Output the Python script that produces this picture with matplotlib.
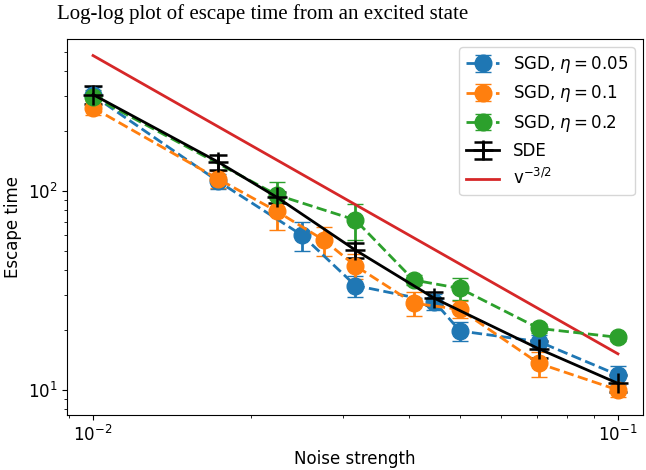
import matplotlib.pyplot as plt

plt.rcParams['font.size'] = 12

# SGD runs, one list per learning rate
x_005 = [0.01, 0.0173, 0.025, 0.0316, 0.0447, 0.05, 0.0707, 0.1]
y_005 = [302, 112, 60, 33.5, 27.8, 19.8, 17.5, 11.9]
e_005 = [30, 10, 10, 4, 2.5, 2.1, 1.5, 1.3]

x_01 = [0.01, 0.0173, 0.0224, 0.0275, 0.0316, 0.0408, 0.05, 0.0707, 0.1]
y_01 = [262, 115, 79, 56.7, 42.1, 27.3, 25.4, 13.6, 10.0]
e_01 = [22, 11, 15, 9.3, 6, 3.8, 2.5, 2, 0.8]

x_02 = [0.01, 0.0224, 0.0316, 0.0408, 0.05, 0.0707, 0.1]
y_02 = [298, 95.5, 71.5, 35.7, 32.4, 20.4, 18.4]
e_02 = [25, 15, 15, 2, 4, 1, 0.8]

# SDE simulation
x_sde = [0.01, 0.0173, 0.0224, 0.0316, 0.0447, 0.0707, 0.1]
y_sde = [305, 140, 93, 50.5, 28.9, 16.1, 10.8]
e_sde = [32, 12, 6, 4.5, 2.3, 1.6, 1.05]

# reference slope v^{-3/2}
x_ref = [0.01, 0.1]
y_ref = [479, 15.2]

fig = plt.figure(figsize=(6.46, 4.70), dpi=100)
ax = fig.add_axes([0.1037, 0.117, 0.8916, 0.800])

kw = dict(fmt='o--', markersize=12, capsize=6, linewidth=2)
h1 = ax.errorbar(x_005, y_005, yerr=e_005, color='tab:blue', label=r'SGD, $\eta = 0.05$', **kw)
h2 = ax.errorbar(x_01, y_01, yerr=e_01, color='tab:orange', label=r'SGD, $\eta = 0.1$', **kw)
h3 = ax.errorbar(x_02, y_02, yerr=e_02, color='tab:green', label=r'SGD, $\eta = 0.2$', **kw)
h4 = ax.errorbar(x_sde, y_sde, yerr=e_sde, fmt='+-', color='black', markersize=14,
                 markeredgewidth=1.8, capsize=6.5, linewidth=2, label='SDE')
h5, = ax.plot(x_ref, y_ref, color='tab:red', linewidth=2, label=r'v$^{-3/2}$')

ax.set_xscale('log')
ax.set_yscale('log')
ax.set_xlim(0.00892, 0.1116)
ax.set_ylim(7.49, 580)
ax.set_xlabel('Noise strength')
ax.set_ylabel('Escape time')
ax.legend(handles=[h1, h2, h3, h4, h5], loc='upper right', fontsize=12)

fig.text(57 / 646, 1 - 19 / 470, 'Log-log plot of escape time from an excited state',
         family='Liberation Serif', fontsize=15, ha='left', va='baseline')

plt.savefig('out.png')
